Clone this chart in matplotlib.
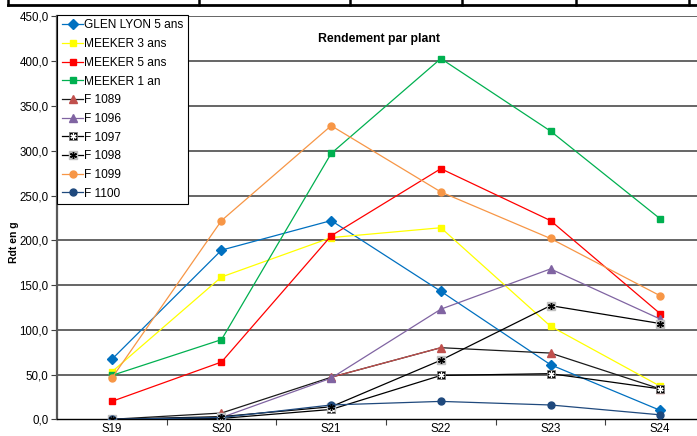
import matplotlib
matplotlib.use("Agg")
import matplotlib.pyplot as plt
from matplotlib.lines import Line2D

plt.rcParams['font.family'] = ['Liberation Sans', 'DejaVu Sans']

weeks = ["S19", "S20", "S21", "S22", "S23", "S24"]

glen_lyon_5 = [67, 189, 222, 143, 61, 10]
meeker_3 = [53, 159, 203, 214, 104, 37]
meeker_5 = [20, 64, 205, 280, 222, 118]
meeker_1 = [49, 89, 297, 403, 322, 224]
f1089 = [0, 7, 47, 80, 74, 34]
f1096 = [0, 2, 46, 123, 168, 112]
f1097 = [0, 1, 11, 49, 51, 34]
f1098 = [0, 3, 14, 66, 127, 107]
f1099 = [46, 222, 328, 254, 202, 138]
f1100 = [0, 2, 16, 20, 16, 5]

yticks = [0, 50, 100, 150, 200, 250, 300, 350, 400, 450]

W, H = 697, 436
fig = plt.figure(figsize=(W / 100, H / 100), dpi=100)
ax = fig.add_axes([57 / W, (H - 419.3) / H, 658 / W, 402.8 / H])

x = list(range(len(weeks)))
lw = 0.9

# gridlines
for v in yticks[1:]:
    ax.axhline(v, color='#3c3c3c', lw=1.1, zorder=0)

handles = []
labels = []

h, = ax.plot(x, glen_lyon_5, color='#0070c0', lw=lw, marker='D', ms=4.6,
             mfc='#0070c0', mec='#0070c0', zorder=3)
handles.append(h); labels.append('GLEN LYON 5 ans')
h, = ax.plot(x, meeker_3, color='#ffff00', lw=lw, marker='s', ms=5,
             mfc='#ffff00', mec='#ffff00', zorder=3)
handles.append(h); labels.append('MEEKER 3 ans')
h, = ax.plot(x, meeker_5, color='#ff0000', lw=lw, marker='s', ms=5,
             mfc='#ff0000', mec='#ff0000', zorder=3)
handles.append(h); labels.append('MEEKER 5 ans')
h, = ax.plot(x, meeker_1, color='#00b050', lw=lw, marker='s', ms=5,
             mfc='#00b050', mec='#00b050', zorder=3)
handles.append(h); labels.append('MEEKER 1 an')
h, = ax.plot(x, f1089, color='#1a1a1a', lw=lw, marker='^', ms=5.5,
             mfc='#c0504d', mec='#c0504d', zorder=3)
ax.plot(x[2:4], f1089[2:4], color='#c0504d', lw=lw, zorder=3)
handles.append(h); labels.append('F 1089')
h, = ax.plot(x, f1096, color='#8064a2', lw=lw, marker='^', ms=5.5,
             mfc='#8064a2', mec='#8064a2', zorder=3)
handles.append(h); labels.append('F 1096')
h1, = ax.plot(x, f1097, color='black', lw=lw, marker='s', ms=5.2,
              mfc='black', mec='#808080', mew=0.6, zorder=3)
h2, = ax.plot(x, f1097, ls='none', marker=(6, 2, 0), ms=4.5, mec='white',
              mew=0.9, zorder=3.1)
handles.append((h1, h2)); labels.append('F 1097')
h1, = ax.plot(x, f1098, color='black', lw=lw, marker='s', ms=5.2,
              mfc='#bfbfbf', mec='#bfbfbf', zorder=3)
h2, = ax.plot(x, f1098, ls='none', marker=(6, 2, 0), ms=5, mec='black',
              mew=1.0, zorder=3.1)
handles.append((h1, h2)); labels.append('F 1098')
h, = ax.plot(x, f1099, color='#f79646', lw=lw, marker='o', ms=5,
             mfc='#f79646', mec='#f79646', zorder=3)
handles.append(h); labels.append('F 1099')
h, = ax.plot(x, f1100, color='#1f497d', lw=lw, marker='o', ms=5,
             mfc='#1f497d', mec='#1f497d', zorder=3)
handles.append(h); labels.append('F 1100')

ax.set_xlim(-0.5, len(weeks) - 0.5)
ax.set_ylim(0, 450)
ax.set_yticks(yticks)
ax.set_yticklabels([f"{v:.1f}".replace('.', ',') for v in yticks], fontsize=8.3)
ax.set_xticks(x)
ax.set_xticklabels(weeks, fontsize=8.3)
ax.set_xticks([i + 0.5 for i in x[:-1]], minor=True)
ax.tick_params(axis='x', which='major', length=0, pad=3)
ax.tick_params(axis='x', which='minor', length=4, width=0.8, color='#404040')
ax.tick_params(axis='y', length=4, width=0.8, color='#404040', pad=2)

for s in ['top', 'right']:
    ax.spines[s].set_visible(False)
ax.spines['left'].set_color('#595959')
ax.spines['left'].set_linewidth(1.6)
ax.spines['bottom'].set_color('black')
ax.spines['bottom'].set_linewidth(1.0)

ax.text(0.49, 0.945, 'Rendement par plant', transform=ax.transAxes,
        ha='center', va='center', fontsize=8.8, fontweight='bold')
fig.text(14 / W, 1 - 242 / H, 'Rdt en g', rotation=90, ha='center',
         va='center', fontsize=7.5, fontweight='bold')

leg = ax.legend(handles, labels, loc='upper left',
                bbox_to_anchor=(57.3 / W, 1 - 14.7 / H),
                bbox_transform=fig.transFigure, borderaxespad=0,
                fontsize=8.6, frameon=True, fancybox=False,
                handlelength=1.75, handletextpad=0.12, labelspacing=0.56,
                borderpad=0.4, framealpha=1)
leg.get_frame().set_edgecolor('black')
leg.get_frame().set_linewidth(0.8)
leg.set_zorder(5)

# table strip along the top edge
fig.add_artist(Line2D([8 / W, 1], [1 - 5.5 / H] * 2, color='black', lw=2))
for xv in [8, 199, 350, 462, 576, 689]:
    fig.add_artist(Line2D([xv / W] * 2, [1, 1 - 5.5 / H], color='black', lw=1.8))

fig.savefig('out.png', dpi=100)
